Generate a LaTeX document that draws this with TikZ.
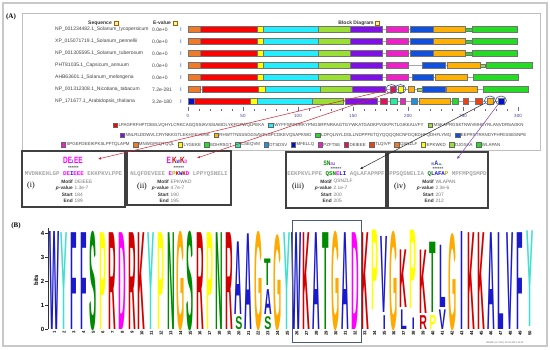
\documentclass[tikz,border=0pt]{standalone}
\usepackage{fontspec}
\setmainfont{Liberation Serif}
\setsansfont{Liberation Sans}
\setmonofont{Liberation Mono}
\usepackage{graphicx}
\usetikzlibrary{positioning,arrows.meta,shapes.geometric}
% logo letter colours
\definecolor{lgblue}{HTML}{1A1ACC}
\definecolor{lgred}{HTML}{D00000}
\definecolor{lggreen}{HTML}{008A00}
\definecolor{lgmag}{HTML}{FF00FF}
\definecolor{lgorange}{HTML}{FFAA00}
\definecolor{lgyellow}{HTML}{FFFF00}
\definecolor{lgcyan}{HTML}{40E0D0}
% block colours
\definecolor{bkorange}{HTML}{F07A28}
\definecolor{bkred}{HTML}{FF0000}
\definecolor{bkyellow}{HTML}{FFFF00}
\definecolor{bkcyan}{HTML}{22EEFF}
\definecolor{bklime}{HTML}{99E033}
\definecolor{bkpurple}{HTML}{7F10E8}
\definecolor{bkmagenta}{HTML}{F020C8}
\definecolor{bkblue}{HTML}{1050E0}
\definecolor{bkgold}{HTML}{FFB000}
\definecolor{bkgreen}{HTML}{22DD22}
\definecolor{bkteal}{HTML}{20F0A0}
\definecolor{bksky}{HTML}{2090E0}
\definecolor{bkcrimson}{HTML}{E8105A}
\definecolor{bkredor}{HTML}{F04010}
\definecolor{bkdeep}{HTML}{0010D0}
\definecolor{ringblue}{HTML}{3A4C8C}
\definecolor{lnkred}{HTML}{D02030}
\definecolor{lnkpurple}{HTML}{8040C0}
\definecolor{boxblue}{HTML}{4A5A80}
\definecolor{framegray}{HTML}{C8C8C8}
% one stretched letter of the logo: position, bottom, top (bits), letter, colour
\newcommand{\lgletter}[5]{%
  \pgfmathsetmacro{\lgx}{54.5+9.7*(#1-1)}%
  \pgfmathsetmacro{\lgy}{329-24*#2}%
  \pgfmathsetmacro{\lgs}{(#3-#2)*24/7.59}%
  \node[lgl, text=#5] (lg-#1-#4) at (\lgx,\lgy) {\scalebox{1}[\lgs]{#4}};%
}
% the four fields of a motif pop-up
\newcommand{\popfields}[6]{%
  \node[flab] (#1-ml) at (#2,181.5) {Motif};
  \node[fval, right=1.5pt of #1-ml] (#1-mv) {#3};
  \node[flab] (#1-pl) at (#2,188) {\textit{p}-value};
  \node[fval, right=1.5pt of #1-pl] (#1-pv) {#4};
  \node[flab] (#1-sl) at (#2,194.5) {Start};
  \node[fval, right=1.5pt of #1-sl] (#1-sv) {#5};
  \node[flab] (#1-el) at (#2,201) {End};
  \node[fval, right=1.5pt of #1-el] (#1-ev) {#6};
}

\begin{document}
\begin{tikzpicture}[x=1pt, y=-1pt,
  frame/.style={draw=framegray, line width=1.3pt},
  shot/.style={draw=black!25, line width=0.8pt},
  panel/.style={font=\fontsize{7}{8}\selectfont\bfseries, inner sep=0pt},
  hdr/.style={font=\fontsize{5}{6}\selectfont\sffamily\bfseries, text=black!80, inner sep=0pt},
  hicon/.style={draw=orange!70!black, fill=yellow!35, minimum size=4pt, inner sep=0pt, line width=0.3pt},
  sname/.style={font=\fontsize{5}{6}\selectfont\sffamily, text=black!75, anchor=west, inner sep=0pt},
  info/.style={font=\fontsize{5.5}{6}\selectfont\sffamily\bfseries, text=bkblue!65, inner sep=0pt},
  seqline/.style={draw=black!35, line width=0.4pt},
  blk/.style={draw=black!55, line width=0.2pt},
  axtick/.style={draw=blue!40!black!60, line width=0.4pt},
  axlab/.style={font=\fontsize{4.5}{5}\selectfont\sffamily, text=blue!45!black!75, inner sep=0pt},
  lgsq/.style={draw=black!60, line width=0.2pt, minimum size=4.5pt, inner sep=0pt},
  lgtxt/.style={font=\fontsize{4.4}{5}\selectfont\sffamily, text=black!75, inner sep=0pt},
  ring/.style={ellipse, draw=ringblue, line width=0.6pt, minimum width=11pt, minimum height=9pt, inner sep=0pt},
  lnk/.style={-{Latex[length=3pt,width=2.6pt]}, line width=0.5pt},
  pop/.style={draw=black!75, line width=1.1pt, fill=white, inner sep=0pt},
  mlogo/.style={font=\fontsize{6.5}{7}\selectfont\sffamily\bfseries, inner sep=0pt},
  stars/.style={font=\fontsize{4.5}{5}\selectfont\sffamily\bfseries, text=black!70, inner sep=0pt},
  seqtxt/.style={font=\fontsize{5.8}{6}\selectfont\ttfamily\bfseries, text=black!35, inner sep=0pt},
  flab/.style={font=\fontsize{4.8}{5}\selectfont\sffamily\bfseries, text=black!80, anchor=east, inner sep=0pt},
  fval/.style={font=\fontsize{4.8}{5}\selectfont\sffamily, text=black!55, anchor=west, inner sep=0pt},
  roman/.style={font=\fontsize{8}{9}\selectfont, inner sep=0pt},
  lgl/.style={anchor=base, inner sep=0pt, font=\fontsize{10.6}{10.6}\selectfont\sffamily\bfseries},
  axl/.style={draw=black!80, line width=0.5pt},
  ytick/.style={font=\fontsize{6}{6}\selectfont\sffamily\bfseries, anchor=east, inner sep=0pt},
  poslab/.style={font=\fontsize{4.3}{5}\selectfont\sffamily\bfseries, rotate=90, anchor=east, inner sep=0pt},
  hilite/.style={draw=boxblue, line width=0.8pt},
]
\useasboundingbox (0,0) rectangle (550,349);
\draw[frame] (3,3) rectangle (547,346);
\node[panel] (pa) at (11,17) {(A)};
\draw[shot] (22,13) rectangle (540,150);

% table header
\node[hdr] (hseq) at (100,23) {Sequence};
\node[hicon, right=1.5pt of hseq] (hseq-i) {};
\node[hdr] (hev) at (162,23) {E-value};
\node[hicon, right=1.5pt of hev] (hev-i) {};
\node[hdr] (hblk) at (356,23) {Block Diagram};
\node[hicon, right=1.5pt of hblk] (hblk-i) {};

% sequences
\foreach \r/\yy/\nm/\ev in {
  1/29.5/NP\_001234482.1\_Solanum\_lycopersicum/0.0e+0,
  2/41.5/XP\_015071719.1\_Solanum\_pennellii/0.0e+0,
  3/53.5/NP\_001305595.1\_Solanum\_tuberosum/0.0e+0,
  4/65.5/PHT81035.1\_Capsicum\_annuum/0.0e+0,
  5/77.5/AHB63601.1\_Solanum\_melongena/0.0e+0,
  6/89.5/NP\_001312308.1\_Nicotiana\_tabacum/7.2e-281,
  7/101.5/NP\_171677.1\_Arabidopsis\_thaliana/3.2e-180} {
  \node[sname] (nm\r) at (55,\yy) {\nm};
  \node[sname] (ev\r) at (152,\yy) {\ev};
  \node[info] (ic\r) at (181,\yy) {I};
}
\foreach \yy/\e in {29.5/518,41.5/518,53.5/518,65.5/533,77.5/519,89.5/529,101.5/505}
  \draw[seqline] (188,\yy) -- (\e,\yy);

% blocks
\foreach \yy in {29.5,41.5,53.5}
  \foreach \a/\b/\c/\h in {188/200/bkorange/3,200/257/bkred/3,257/263/bkyellow/3,263/318/bkcyan/3,
      318/350/bklime/3,350/382/bkpurple/3,386/408/bkmagenta/3,410/433/bkblue/3,433/465/bkgold/3,
      465/472/bkgreen/1.6,472/517/bkgreen/3}
    \path[blk, fill=\c] (\a,\yy-\h) rectangle (\b,\yy+\h);
\foreach \a/\b/\c/\h in {188/200/bkorange/3,200/257/bkred/3,257/263/bkyellow/3,263/318/bkcyan/3,
    318/350/bklime/3,350/382/bkpurple/3,386/408/bkmagenta/3,422/445/bkblue/3,447/480/bkgold/3,
    480/485/bklime/1.6,486/532/bkgreen/3}
  \path[blk, fill=\c] (\a,65.5-\h) rectangle (\b,65.5+\h);
\foreach \a/\b/\c/\h in {188/200/bkorange/3,200/257/bkred/3,257/263/bkyellow/3,263/318/bkcyan/3,
    318/350/bklime/3,350/382/bkpurple/3,386/408/bkmagenta/3,412/433/bkblue/3,435/467/bkgold/3,
    473/518/bkgreen/3}
  \path[blk, fill=\c] (\a,77.5-\h) rectangle (\b,77.5+\h);
\foreach \a/\b/\c/\h in {188/200/bkorange/3,202/258/bkred/3,258/265/bkyellow/3,265/320/bkcyan/3,
    320/352/bklime/3,352/385/bkpurple/3,390/395/bkcrimson/3,398/403/bkyellow/3,408/414/bkgold/3,
    417/422/bklime/1.6,422/445/bkblue/3,446/477/bkgold/3,483/528/bkgreen/3}
  \path[blk, fill=\c] (\a,89.5-\h) rectangle (\b,89.5+\h);
\foreach \a/\b/\c/\h in {188/194/bkdeep/3,194/250/bkred/3,250/257/bkyellow/3,257/312/bkcyan/3,
    312/343/bklime/3,345/377/bkpurple/3,380/387/bkcrimson/3,390/397/bkteal/3,400/405/bkmagenta/3,
    411/417/bksky/3,419/450/bkgold/3,452/458/bkgreen/3,463/468/bkredor/3,475/482/bkredor/3,
    487/493/bkgold/3,498/504/bkdeep/3}
  \path[blk, fill=\c] (\a,101.5-\h) rectangle (\b,101.5+\h);

% position scale
\foreach \u in {0,10,...,300}
  \draw[axtick] (188+1.1*\u,109) -- (188+1.1*\u,111);
\foreach \u in {0,50,...,300} {
  \draw[axtick] (188+1.1*\u,106.5) -- (188+1.1*\u,111);
  \node[axlab] (ax\u) at (188+1.1*\u,116) {\u};
}

% motif legend
\foreach \c/\t [count=\i] in {bkred/LPAGFRFHPTDEELVQHYLCRKCAGQSSIAVSSIAEIDLYKFDPWQLPEKA,
    bkcyan/WYFFSPRDRKYPNGSRPNRAAGTGYWKATGADKPVGKPKTLGIKKALVFY,
    bklime/MSKAPRGSKTNWVMHEYRLANVDRSAGKN} {
  \ifnum\i=1 \node[lgsq, fill=\c] (ra\i) at (115,125) {};
  \else \pgfmathtruncatemacro{\j}{\i-1}\node[lgsq, fill=\c, right=4pt of rat\j] (ra\i) {}; \fi
  \node[lgtxt, right=1pt of ra\i] (rat\i) {\t};
}
\foreach \c/\t [count=\i] in {bkpurple/NNLRLDDWVLCRYNKKGTLEKHYEVDNK,
    bkgold/RHWTTNSSSGGSAVPLSPCDKEVQSAPKWD,
    bkgreen/LDFQLNYLDGLLNDPPFETQYQQQQNCNFDQEDHFQDHFLYMQ,
    bkblue/EEPRSTRANDYFHFESSESNPE} {
  \ifnum\i=1 \node[lgsq, fill=\c] (rb\i) at (122,135) {};
  \else \pgfmathtruncatemacro{\j}{\i-1}\node[lgsq, fill=\c, right=3.5pt of rbt\j] (rb\i) {}; \fi
  \node[lgtxt, right=1pt of rb\i] (rbt\i) {\t};
}
\foreach \c/\t [count=\i] in {bkmagenta/SPGEFDEEIKPKSLPFTQLAPM, bkorange/MNWGPFQTQQL,
    bkyellow/LYGEKE, bkgreen/EDHRSGT, bkteal/CSEQVM, bksky/DTSDSV, bkdeep/MFELLQ,
    bkmagenta/PZFTSE, bkcrimson/DEIEEE, bkredor/TLQIVP, bkorange/QSNZLF, bkyellow/EPKWKD,
    bklime/DJGSAA, bkgreen/WLAPAN} {
  \ifnum\i=1 \node[lgsq, fill=\c] (rc\i) at (63,144.5) {};
  \else \pgfmathtruncatemacro{\j}{\i-1}\node[lgsq, fill=\c, right=3.2pt of rct\j] (rc\i) {}; \fi
  \node[lgtxt, right=1pt of rc\i] (rct\i) {\t};
}

% circled hits
\node[ring] (c1) at (391.5,89) {};
\node[ring] (c2) at (400.5,89) {};
\node[ring] (c3) at (490,100.5) {};
\node[ring] (c4) at (501,100.5) {};

% motif pop-ups
\node[pop, minimum width=103pt, minimum height=56pt] (pi) at (73.5,179) {};
\node[mlogo] (pi-logo) at (73,160) {\scalebox{1}[1.4]{\color{lgmag}DE{\fontsize{3.5}{4}\selectfont\color{lgblue}I}{\fontsize{3.5}{4}\selectfont .}EE}};
\node[stars] (pi-st) at (73.5,167.5) {******};
\node[seqtxt] (pi-seq) at (73.5,174) {MVDNKEHLGP \textcolor{lgmag}{DE}\textcolor{lgblue}{I}\textcolor{lgmag}{EEE} EKKPKVLPPE};
\popfields{pi}{73}{DEIEEE}{1.3e-7}{184}{189}
\node[roman] (pi-r) at (31,186) {(i)};
\coordinate (pi-t) at (98,159);

\node[pop, minimum width=104pt, minimum height=54pt] (pii) at (179,178) {};
\node[mlogo] (pii-logo) at (177,160) {\scalebox{1}[1.4]{\color{lgmag}E{\fontsize{3.5}{4}\selectfont .}\color{lgred}K{\fontsize{3.5}{4}\selectfont\color{lgblue}W}\color{lgred}K{\fontsize{3.5}{4}\selectfont\color{lgmag}D}}};
\node[stars] (pii-st) at (179,167.5) {******};
\node[seqtxt] (pii-seq) at (179,174) {NLQFDEVEEE \textcolor{lgmag}{E}\textcolor{lgyellow!70!black}{P}\textcolor{lgred}{K}\textcolor{lgblue}{W}\textcolor{lgred}{K}\textcolor{lgmag}{D} LPPYQSNELI};
\popfields{pii}{169}{EPKWKD}{4.7e-7}{190}{195}
\node[roman] (pii-r) at (142,187) {(ii)};
\coordinate (pii-t) at (197,158);

\node[pop, minimum width=100pt, minimum height=56pt] (piii) at (336,180) {};
\node[mlogo, font=\fontsize{5}{5}\selectfont\sffamily\bfseries] (piii-logo) at (329,163) {\scalebox{1}[1.3]{\color{lggreen}{\fontsize{3}{3}\selectfont .}SN{\fontsize{3}{3}\selectfont\color{lgmag}E}{\fontsize{3}{3}\selectfont\color{lgblue}LI}}};
\node[stars] (piii-st) at (336,168.5) {******};
\node[seqtxt] (piii-seq) at (336,174.5) {EEKPKVLPPE \textcolor{lggreen}{QSN}\textcolor{lgmag}{E}\textcolor{lgblue}{LI} AQLAFAPMPF};
\popfields{piii}{332}{QSNZLF}{2.1e-7}{200}{205}
\node[roman] (piii-r) at (298,187) {(iii)};
\coordinate (piii-t) at (360,169);

\node[pop, minimum width=100pt, minimum height=56pt] (piv) at (438,180) {};
\node[mlogo, font=\fontsize{5}{5}\selectfont\sffamily\bfseries] (piv-logo) at (437,163) {\scalebox{1}[1.3]{\color{lgblue}{\fontsize{3}{3}\selectfont N.}A{\fontsize{3}{3}\selectfont .}{\fontsize{3}{3}\selectfont\color{lggreen}a}{\fontsize{3}{3}\selectfont ..}}};
\node[stars] (piv-st) at (438,168.5) {******};
\node[seqtxt] (piv-seq) at (438,174.5) {PPSQSNELIA \textcolor{lggreen}{Q}\textcolor{lgblue}{LAFA}\textcolor{lgyellow!70!black}{P} MPFMPQSMPD};
\popfields{piv}{434}{WLAPAN}{2.3e-6}{207}{212}
\node[roman] (piv-r) at (400,187) {(iv)};
\coordinate (piv-t) at (457,159);

% connectors
\draw[lnk, draw=lnkred] (c1) -- (pi-t);
\draw[lnk, draw=lnkred] (c2) -- (pii-t);
\draw[lnk, draw=black!85] (c3) -- (piii-t);
\draw[lnk, draw=lnkpurple] (c4) -- (piv-t);

% (B) sequence logo
\node[panel] (pb) at (16,226) {(B)};
\draw[axl] (48,329) -- (48,228);
\foreach \k in {0,...,4} {
  \draw[axl] (45,329-24*\k) -- (48,329-24*\k);
  \node[ytick] (yt\k) at (44.5,329-24*\k) {\k};
}
\node[font=\fontsize{6}{6}\selectfont\sffamily\bfseries, rotate=90, inner sep=0pt] (bits) at (36,280) {bits};
\foreach \p/\b/\t/\l/\c in {1/0/4.25/W/lgblue, 2/0/4.2/Y/lgcyan, 3/0/4.2/F/lgblue, 4/0/4.2/F/lgblue,
    5/0/4.2/S/lggreen, 6/0/4.2/P/lgyellow, 7/0/4.2/R/lgred, 8/0/4.2/D/lgmag, 9/0/4.2/R/lgred,
    10/0/4.2/K/lgred, 11/0/4.2/Y/lgcyan, 12/0/4.2/P/lgyellow, 13/0/4.2/N/lggreen, 14/0/4.2/G/lgorange,
    15/0/4.2/S/lggreen, 16/0/4.2/R/lgred, 17/0/4.2/P/lgyellow, 18/0/4.2/N/lggreen, 19/0/4.2/R/lgred,
    20/0/0.55/S/lggreen, 20/0.6/3.75/A/lgblue, 21/0/4.15/A/lgblue, 22/0/4.2/G/lgorange,
    23/0/0.55/S/lggreen, 23/0.62/1.7/A/lgblue, 23/1.8/2.95/T/lggreen, 24/0/4.05/G/lgorange,
    25/0/4.2/Y/lgcyan, 26/0/4.2/W/lgblue, 27/0/4.2/K/lgred, 28/0/4.2/A/lgblue, 29/0/4.2/T/lggreen,
    30/0/4.2/G/lgorange, 31/0/4.2/A/lgblue, 32/0/4.2/D/lgmag, 33/0/4.2/K/lgred, 34/0.8/4.25/P/lgyellow,
    35/0/0.6/I/lgblue, 35/0.7/4.0/V/lgblue, 36/0/4.2/G/lgorange, 37/0/0.85/L/lgblue, 37/0.9/3.4/K/lgred,
    38/0/0.5/I/lgblue, 38/0.85/4.25/P/lgyellow, 39/0/0.6/R/lgred, 39/0.65/3.4/K/lgred,
    40/0/0.6/P/lgyellow, 40/0.7/3.75/T/lggreen, 41/0/0.85/V/lgblue, 41/0.9/3.6/L/lgblue,
    42/0/4.1/G/lgorange, 43/0/4.25/I/lgblue, 44/0/4.2/K/lgred, 45/0/4.2/K/lgred, 46/0/4.2/A/lgblue,
    47/0/4.2/L/lgblue, 48/0/4.2/V/lgblue, 49/0/4.2/F/lgblue, 50/0.1/4.25/Y/lgcyan}
  \lgletter{\p}{\b}{\t}{\l}{\c};
\foreach \p in {1,...,50}
  \node[poslab] (pos\p) at (54.5+9.7*\p-9.7,331) {\p};
\draw[hilite] (292,220) rectangle (361,342);
\node[font=\fontsize{2.4}{3}\selectfont\sffamily, text=black!60, inner sep=0pt] (credit) at (505,343) {MEME (no SSC) 20.03.2013 12:05};
\end{tikzpicture}
\end{document}
